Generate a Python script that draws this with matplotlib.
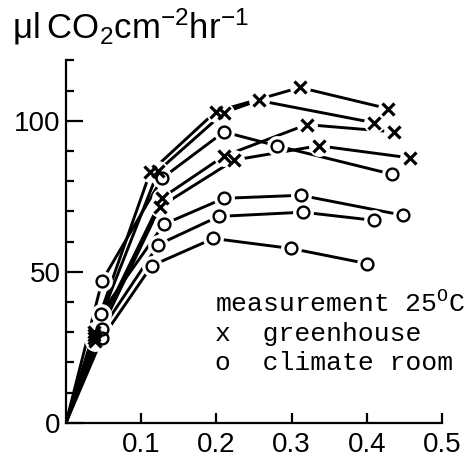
import matplotlib
matplotlib.use("Agg")
import matplotlib.pyplot as plt
from matplotlib import font_manager

names = {f.name for f in font_manager.fontManager.ttflist}
SANS = "Liberation Sans" if "Liberation Sans" in names else "DejaVu Sans"
MONO = "Liberation Mono" if "Liberation Mono" in names else "DejaVu Sans Mono"

plt.rcParams["mathtext.fontset"] = "custom"
plt.rcParams["mathtext.sf"] = SANS
plt.rcParams["mathtext.rm"] = MONO
plt.rcParams["mathtext.it"] = MONO

# greenhouse series (x markers)
g1_x = [0, 0.037, 0.112, 0.199, 0.311, 0.428]
g1_y = [0, 30, 83, 103, 111, 104]
g2_x = [0, 0.037, 0.123, 0.21, 0.256, 0.41]
g2_y = [0, 29, 83.5, 102.7, 106.7, 99.3]
g3_x = [0, 0.037, 0.128, 0.21, 0.32, 0.436]
g3_y = [0, 28, 74.5, 88.3, 98.7, 96.3]
g4_x = [0, 0.039, 0.125, 0.224, 0.336, 0.457]
g4_y = [0, 27, 71.5, 87, 91.7, 87.7]

# climate room series (o markers)
c1_x = [0, 0.048, 0.128, 0.21, 0.28, 0.433]
c1_y = [0, 47, 81, 96.3, 91.7, 82.3]
c2_x = [0, 0.046, 0.13, 0.21, 0.312, 0.448]
c2_y = [0, 36, 65.7, 74.3, 75.3, 68.7]
c3_x = [0, 0.048, 0.123, 0.203, 0.315, 0.41]
c3_y = [0, 31, 59, 68.3, 69.7, 67]
c4_x = [0, 0.048, 0.114, 0.196, 0.299, 0.40]
c4_y = [0, 28, 52, 61, 57.7, 52.7]

greenhouse = [(g1_x, g1_y), (g2_x, g2_y), (g3_x, g3_y), (g4_x, g4_y)]
climate = [(c1_x, c1_y), (c2_x, c2_y), (c3_x, c3_y), (c4_x, c4_y)]

x_ticks = [0.1, 0.2, 0.3, 0.4, 0.5]
x_ticklabels = ["0.1", "0.2", "0.3", "0.4", "0.5"]
y_ticks = [0, 50, 100]
y_ticklabels = ["0", "50", "100"]
y_minor = [10, 20, 30, 40, 60, 70, 80, 90, 110, 120]

fig = plt.figure(figsize=(4.74, 4.62), dpi=100)
ax = fig.add_axes([66 / 474, 1 - 422.7 / 462, 376 / 474, 362.4 / 462])
ax.set_xlim(0, 0.5)
ax.set_ylim(0, 120)

lw = 2.1
for xs, ys in greenhouse + climate:
    ax.plot(xs, ys, color="black", lw=lw, zorder=2, solid_capstyle="butt")
for xs, ys in greenhouse + climate:
    ax.plot(xs, ys, ls="none", marker="o", ms=15, mfc="white", mec="none",
            markevery=list(range(1, len(xs))), zorder=3, clip_on=False)
for xs, ys in greenhouse:
    ax.plot(xs, ys, ls="none", marker="x", ms=8, mew=2.3, color="black",
            markevery=list(range(1, len(xs))), zorder=4, clip_on=False)
for xs, ys in climate:
    ax.plot(xs, ys, ls="none", marker="o", ms=8.5, mew=1.7, mfc="none", mec="black",
            markevery=list(range(1, len(xs))), zorder=4, clip_on=False)

for s in ["top", "right"]:
    ax.spines[s].set_visible(False)
for s in ["left", "bottom"]:
    ax.spines[s].set_linewidth(1.6)

ax.set_xticks(x_ticks)
ax.set_xticklabels(x_ticklabels, fontfamily=SANS, fontsize=20)
ax.set_yticks(y_ticks)
ax.set_yticklabels(y_ticklabels, fontfamily=SANS, fontsize=20)
ax.set_yticks(y_minor, minor=True)
ax.tick_params(axis="x", direction="in", length=7, width=1.6, pad=7)
ax.tick_params(axis="y", which="major", direction="in", length=12, width=1.6, pad=4)
ax.tick_params(axis="y", which="minor", direction="in", length=6, width=1.6)

fig.text(12 / 474, 1 - 38 / 462, r"$\mathsf{\mu l\ CO_2cm^{-2}hr^{-1}}$",
         fontsize=25, ha="left", va="baseline")

fig.text(215 / 474, 1 - 312 / 462, r"measurement 25$^{\mathrm{O}}$C",
         fontfamily=MONO, fontsize=19, ha="left", va="baseline")
fig.text(215 / 474, 1 - 341 / 462, "x  greenhouse",
         fontfamily=MONO, fontsize=19, ha="left", va="baseline")
fig.text(215 / 474, 1 - 370 / 462, "o  climate room",
         fontfamily=MONO, fontsize=19, ha="left", va="baseline")

fig.savefig("out.png", dpi=100)
